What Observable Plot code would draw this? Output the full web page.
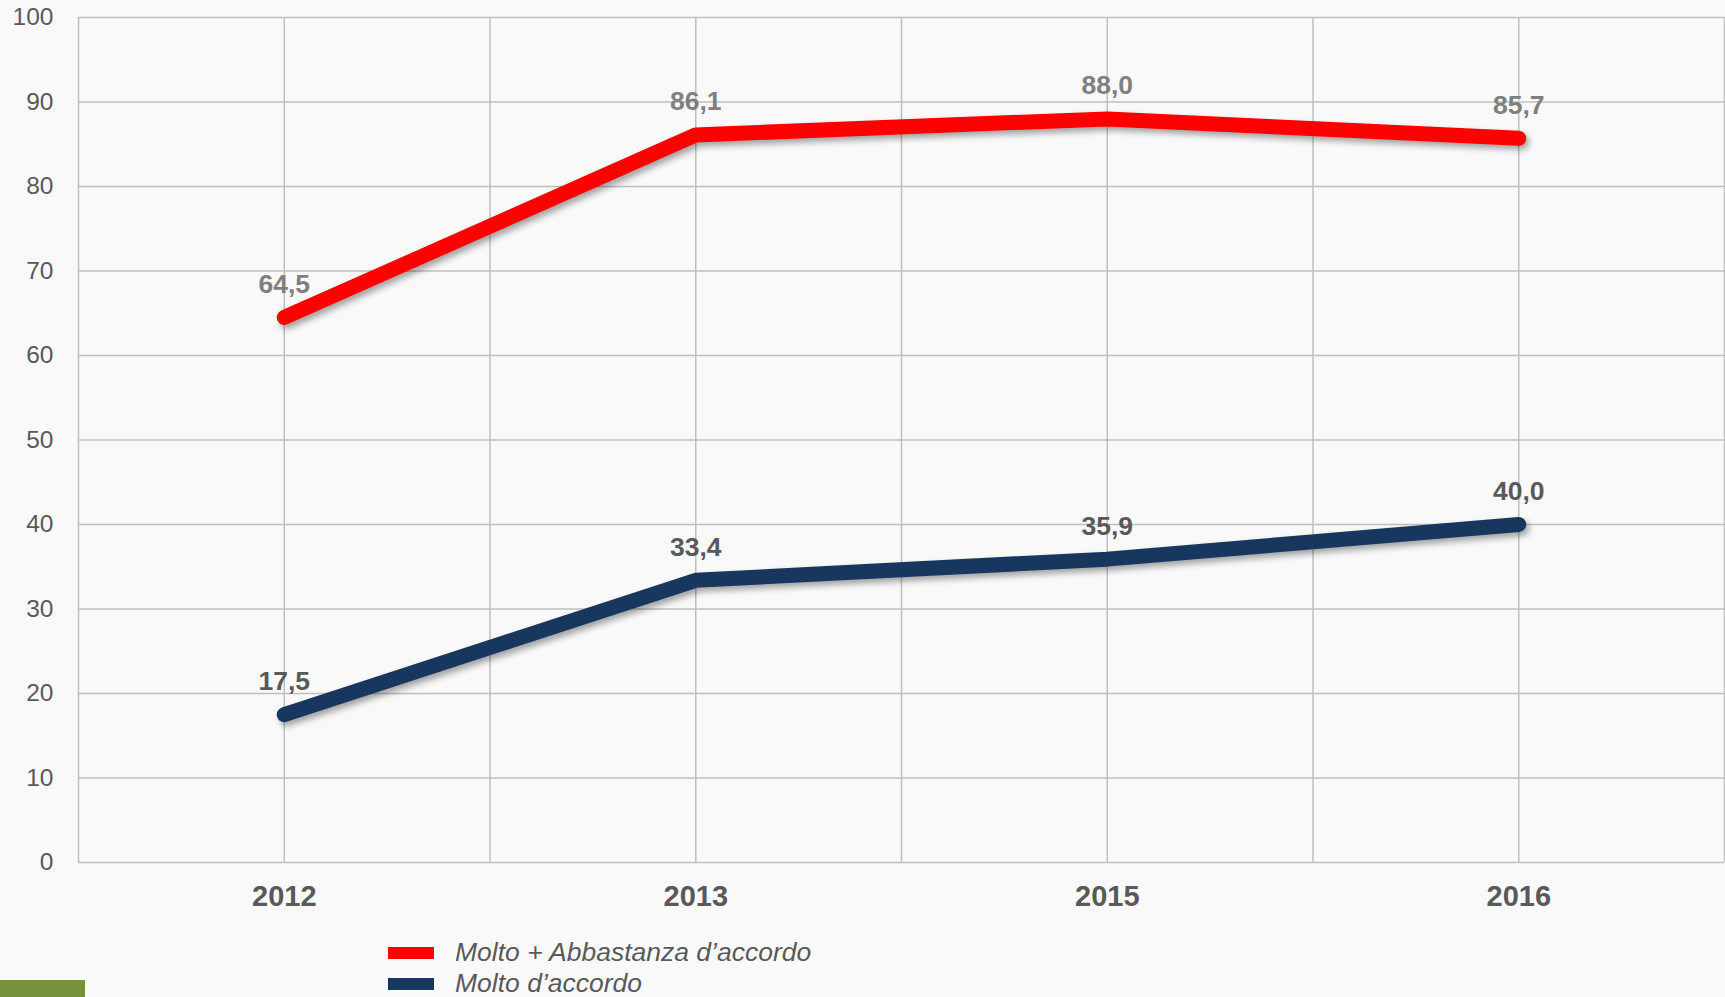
<!DOCTYPE html>
<html>
<head>
<meta charset="utf-8">
<script src="https://cdn.jsdelivr.net/npm/d3@7"></script>
<script src="https://cdn.jsdelivr.net/npm/@observablehq/plot@0.6"></script>
<style>
  html, body { margin: 0; padding: 0; background: #f9f9f9; }
  body { width: 1725px; height: 997px; position: relative; overflow: hidden; font-family: Arial, "Liberation Sans", sans-serif; }
  #chart { position: absolute; left: 0; top: 0; }
  #legend { position: absolute; left: 388px; top: 937px; font-style: italic; font-size: 26.5px; color: #595959; line-height: 31px; }
  #legend .row { display: flex; align-items: center; }
  #legend .sw { width: 46px; height: 12px; margin-right: 21px; }
  #bar { position: absolute; left: 0; top: 980px; width: 85px; height: 17px; background: #76923c; }
  svg g[aria-label="line"] path { filter: drop-shadow(3px 4px 3px rgba(0,0,0,0.35)); }
</style>
</head>
<body>
<div id="chart"></div>
<div id="legend"></div>
<div id="bar"></div>
<script>
const years = ["2012", "2013", "2015", "2016"];
const seriesNames = ["Molto + Abbastanza d\u2019accordo", "Molto d\u2019accordo"];
const seriesColors = ["#ff0000", "#17375e"];
const labelColors = ["#7f7f7f", "#595959"];
const valuesTotal = [64.5, 86.1, 88.0, 85.7];
const valuesMolto = [17.5, 33.4, 35.9, 40.0];
const yTicks = [0, 10, 20, 30, 40, 50, 60, 70, 80, 90, 100];

const seriesValues = [valuesTotal, valuesMolto];
const data = [];
seriesValues.forEach((vals, s) => vals.forEach((v, i) => data.push({i, year: years[i], value: v, series: seriesNames[s], s})));

const xIdx = years.map((_, i) => i);
const xGrid = [];
years.forEach((_, i) => { xGrid.push(i - 0.5); xGrid.push(i); });
xGrid.push(years.length - 0.5);

const fmt = v => v.toFixed(1).replace(".", ",");

const chart = Plot.plot({
  width: 1725,
  height: 997,
  marginLeft: 78,
  marginRight: 1,
  marginTop: 17,
  marginBottom: 135,
  style: {background: "transparent", fontFamily: "Arial, 'Liberation Sans', sans-serif"},
  x: {domain: [-0.5, years.length - 0.5], axis: null},
  y: {domain: [0, 100], axis: null},
  color: {domain: seriesNames, range: seriesColors},
  marks: [
    Plot.ruleY(yTicks, {y: d => d, stroke: "#bfbfbf", strokeWidth: 1.5}),
    Plot.ruleX(xGrid, {x: d => d, stroke: "#bfbfbf", strokeWidth: 1.5}),
    Plot.axisY({ticks: yTicks, tickSize: 0, tickPadding: 25, fontSize: 24.5, color: "#595959", tickFormat: d => d, label: null}),
    Plot.text(xIdx, {x: d => d, frameAnchor: "bottom", dy: 43, text: d => years[d], fontSize: 29, fontWeight: "bold", fill: "#595959"}),
    Plot.line(data, {x: "i", y: "value", z: "series", stroke: "series", strokeWidth: 15, strokeLinecap: "round", strokeLinejoin: "round"}),
    Plot.text(data, {x: "i", y: "value", text: d => fmt(d.value), dy: -33, fontSize: 26.5, fontWeight: "bold", fill: d => labelColors[d.s]})
  ]
});
document.getElementById("chart").appendChild(chart);

const legend = document.getElementById("legend");
seriesNames.forEach((name, s) => {
  const row = document.createElement("div");
  row.className = "row";
  const sw = document.createElement("div");
  sw.className = "sw";
  sw.style.background = seriesColors[s];
  const t = document.createElement("span");
  t.textContent = name;
  row.appendChild(sw);
  row.appendChild(t);
  legend.appendChild(row);
});
</script>
</body>
</html>
